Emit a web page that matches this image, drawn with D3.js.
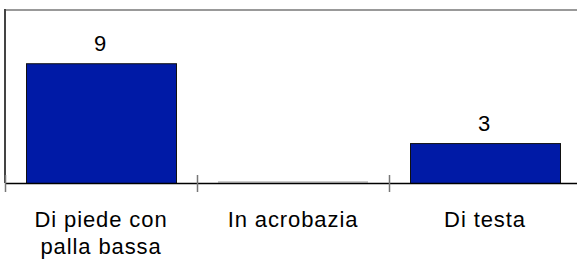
<!DOCTYPE html>
<html>
<head>
<meta charset="utf-8">
<script src="https://cdn.jsdelivr.net/npm/d3@7"></script>
<style>
html,body{margin:0;padding:0;background:#fff;}
svg{display:block;}
text{font-family:"Liberation Sans",Arial,Helvetica,sans-serif;fill:#000;}
</style>
</head>
<body>
<svg id="chart" width="577" height="262"></svg>
<script>
const categories = [["Di piede con","palla bassa"],["In acrobazia"],["Di testa"]];
const values = [9, 0, 3];
const yMax = 13;

(function(){
const svg = d3.select("#chart");
const mLeft = 5, mTop = 10, mBottom = 183, mRight = 581;

const x = d3.scaleBand().domain(d3.range(categories.length)).range([mLeft, mRight]).paddingInner(0).paddingOuter(0);
const y = d3.scaleLinear().domain([0, yMax]).range([mBottom, mTop]);
const barW = 150;
const off = (x.bandwidth() - barW) / 2;
const data = values.map((v, i) => ({i, v}));

// top border
svg.append("line").attr("x1", mLeft).attr("x2", 577).attr("y1", mTop).attr("y2", mTop)
  .attr("stroke", "#999").attr("stroke-width", 2);
// left border
svg.append("line").attr("x1", mLeft).attr("x2", mLeft).attr("y1", mTop - 1).attr("y2", mBottom)
  .attr("stroke", "#444").attr("stroke-width", 2);

// bars
svg.selectAll("rect.bar").data(data.filter(d => d.v > 0)).join("rect").attr("class", "bar")
  .attr("x", d => x(d.i) + off + 0.5)
  .attr("y", d => y(d.v) + 0.5)
  .attr("width", barW)
  .attr("height", d => y(0) - y(d.v))
  .attr("fill", "#001aa6")
  .attr("stroke", "#111")
  .attr("stroke-width", 1);

// zero bar marker
svg.selectAll("line.zero").data(data.filter(d => d.v === 0)).join("line").attr("class", "zero")
  .attr("x1", d => x(d.i) + off).attr("x2", d => x(d.i) + off + barW)
  .attr("y1", y(0) - 1).attr("y2", y(0) - 1).attr("stroke", "#bbb").attr("stroke-width", 1.5);

// x axis line
svg.append("line").attr("x1", mLeft).attr("x2", 577).attr("y1", mBottom + 0.5).attr("y2", mBottom + 0.5)
  .attr("stroke", "#000").attr("stroke-width", 1.5);

// ticks at band boundaries
svg.selectAll("line.tick").data(d3.range(categories.length)).join("line").attr("class", "tick")
  .attr("x1", i => x(i) + 0.5).attr("x2", i => x(i) + 0.5)
  .attr("y1", 175).attr("y2", 192)
  .attr("stroke", "#777").attr("stroke-width", 1.5);

// value labels
svg.selectAll("text.val").data(data.filter(d => d.v > 0)).join("text").attr("class", "val")
  .attr("x", d => x(d.i) + x.bandwidth() / 2 - 1)
  .attr("y", d => y(d.v) - 12)
  .attr("text-anchor", "middle")
  .attr("font-size", "22px")
  .text(d => d.v);

// category labels
categories.forEach((lines, i) => {
  const cx = x(i) + x.bandwidth() / 2;
  const t = svg.append("text")
    .attr("x", cx)
    .attr("y", 227)
    .attr("text-anchor", "middle")
    .attr("font-size", "22px")
    .attr("letter-spacing", "0.9px");
  lines.forEach((l, j) => {
    t.append("tspan").attr("x", cx).attr("dy", j === 0 ? 0 : 27).text(l);
  });
});
})();
</script>
</body>
</html>
